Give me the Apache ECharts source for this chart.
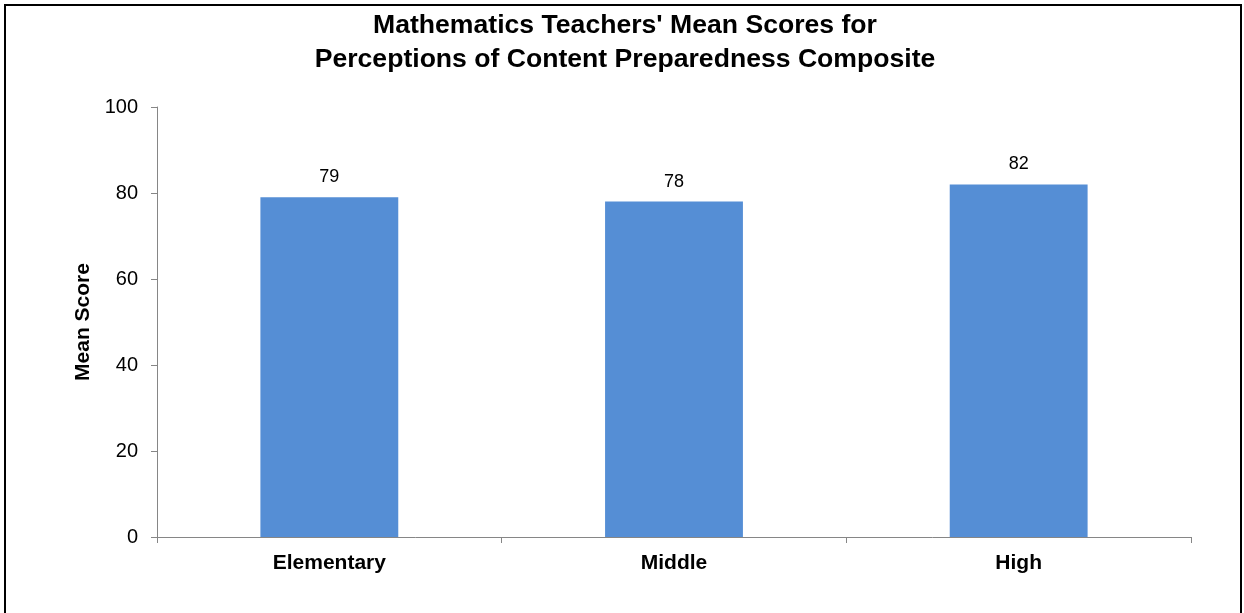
<!DOCTYPE html>
<html>
<head>
<meta charset="utf-8">
<script src="https://cdn.jsdelivr.net/npm/echarts@6/dist/echarts.min.js"></script>
<style>
  html, body { margin: 0; padding: 0; background: #fff; }
  body { width: 1244px; height: 613px; overflow: hidden; position: relative; }
  #frame { position: absolute; left: 4px; top: 4px; width: 1238px; height: 640px; border: 2px solid #000; box-sizing: border-box; }
  #chart { position: absolute; left: 0; top: 0; width: 1244px; height: 613px; }
</style>
</head>
<body>
<div id="frame"></div>
<div id="chart"></div>
<script>
// Composite mean scores by school level
const titleLines = ["Mathematics Teachers' Mean Scores for", "Perceptions of Content Preparedness Composite"];
const levels = ["Elementary", "Middle", "High"];
const meanScores = [79, 78, 82];
const yTicks = { min: 0, max: 100, step: 20 };

const chart = echarts.init(document.getElementById('chart'), null, { renderer: 'canvas' });
const font = '"Liberation Sans", Arial, sans-serif';

chart.setOption({
  animation: false,
  backgroundColor: 'transparent',
  title: {
    text: titleLines.join('\n'),
    left: 620,
    textAlign: 'center',
    top: 4,
    textStyle: { fontFamily: font, fontSize: 26.6, fontWeight: 'bold', color: '#000', lineHeight: 34 }
  },
  grid: { left: 157, right: 53, top: 107, bottom: 76, containLabel: false },
  xAxis: {
    type: 'category',
    data: levels,
    axisLine: { lineStyle: { color: '#868686', width: 1 } },
    axisTick: { show: true, alignWithLabel: false, length: 6, lineStyle: { color: '#868686' } },
    axisLabel: { fontFamily: font, fontSize: 21, fontWeight: 'bold', color: '#000', margin: 16 }
  },
  yAxis: {
    type: 'value',
    min: yTicks.min,
    max: yTicks.max,
    interval: yTicks.step,
    name: 'Mean Score',
    nameLocation: 'middle',
    nameGap: 57,
    nameRotate: 90,
    nameTextStyle: { fontFamily: font, fontSize: 21, fontWeight: 'bold', color: '#000' },
    axisLine: { show: true, lineStyle: { color: '#868686', width: 1 } },
    axisTick: { show: true, length: 6, lineStyle: { color: '#868686' } },
    splitLine: { show: false },
    axisLabel: { fontFamily: font, fontSize: 20, color: '#000', margin: 19 }
  },
  series: [{
    type: 'bar',
    data: meanScores,
    barWidth: '40%',
    itemStyle: { color: '#558ED5' },
    label: {
      show: true,
      position: 'top',
      distance: 11,
      fontFamily: font,
      fontSize: 18,
      color: '#000'
    }
  }]
});
</script>
</body>
</html>
